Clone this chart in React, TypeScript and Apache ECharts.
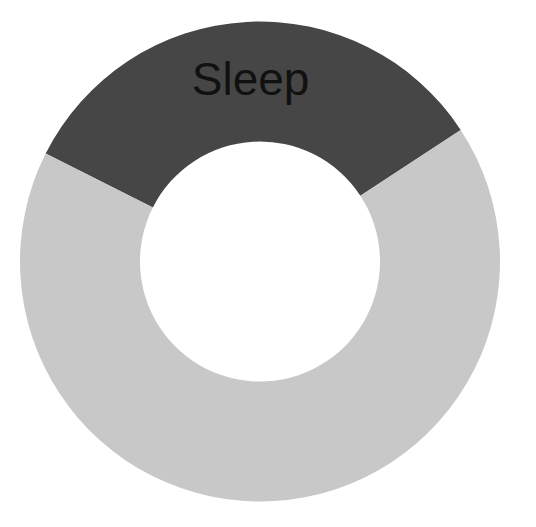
import { useEffect, useRef } from "react";
import * as echarts from "echarts";

const labels = ["Sleep", "Awake"];
const hours = [8, 16];
const colors = ["#464646", "#c8c8c8"];
const shownLabels = ["Sleep"];

export default function App() {
  const ref = useRef<HTMLDivElement>(null);

  useEffect(() => {
    if (!ref.current) return;
    const chart = echarts.init(ref.current, undefined, { renderer: "svg" });
    chart.setOption({
      animation: false,
      series: [
        {
          type: "pie",
          center: [260, 261.5],
          radius: [120, 240],
          startAngle: 153.25,
          clockwise: true,
          silent: true,
          label: {
            position: "inside",
            color: "#111",
            fontSize: 46,
            fontFamily: "Liberation Sans, Arial, sans-serif",
            padding: [6, 0, 0, 2],
            formatter: (p: any) => (shownLabels.includes(p.name) ? p.name : ""),
          },
          labelLine: { show: false },
          itemStyle: { borderWidth: 0 },
          data: labels.map((name, i) => ({
            name,
            value: hours[i],
            itemStyle: { color: colors[i] },
          })),
        },
      ],
    });
    return () => chart.dispose();
  }, []);

  return (
    <div
      ref={ref}
      style={{ position: "fixed", left: 0, top: 0, width: 536, height: 527, background: "#fff" }}
    />
  );
}
